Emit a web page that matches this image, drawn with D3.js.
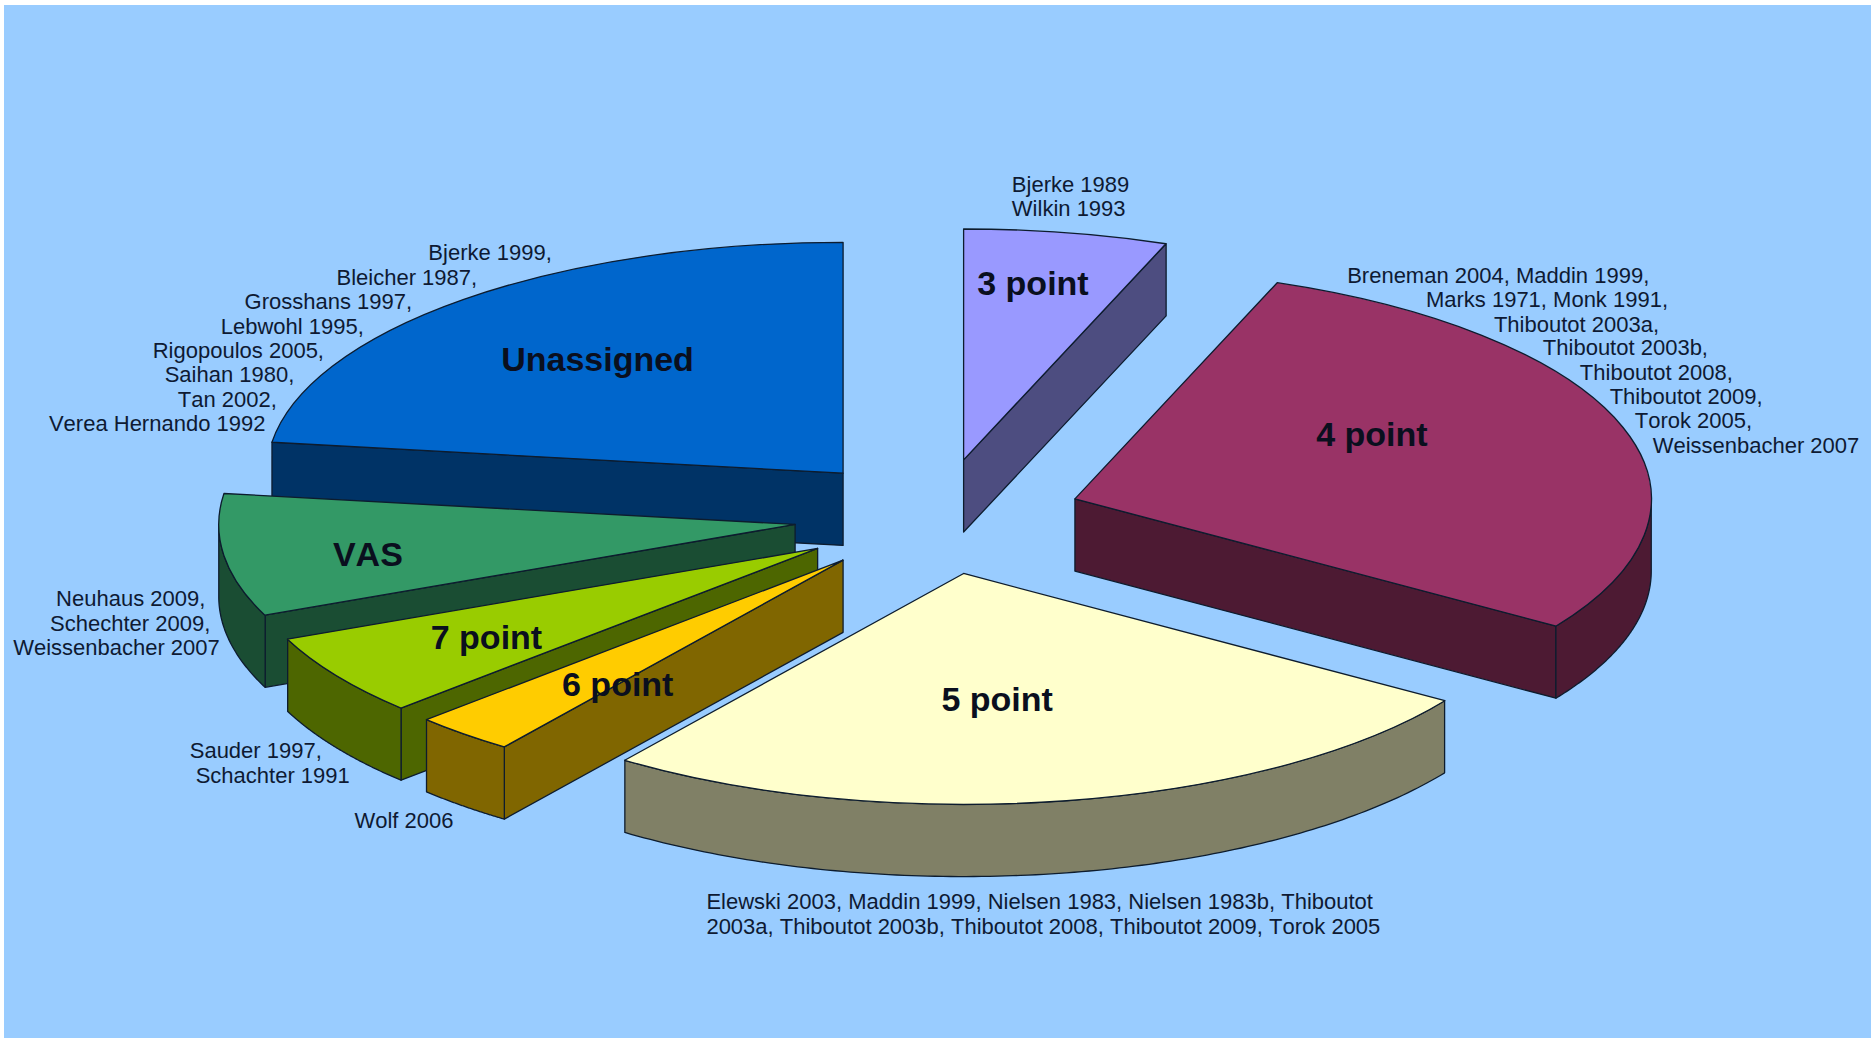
<!DOCTYPE html>
<html>
<head>
<meta charset="utf-8">
<script src="https://cdn.jsdelivr.net/npm/d3@7/dist/d3.min.js"></script>
<style>
html,body{margin:0;padding:0;background:#fff;overflow:hidden}
svg{display:block}
text{font-kerning:none}
</style>
</head>
<body>
<svg id="chart" width="1871" height="1038"></svg>
<script>
// ---- data ----
const categories = ["3 point", "4 point", "5 point", "6 point", "7 point", "VAS", "Unassigned"];
const studyCounts = [2, 10, 9, 1, 2, 3, 8];
const studies3 = ["Bjerke 1989", "Wilkin 1993"];
const studies4 = ["Breneman 2004, Maddin 1999,", "Marks 1971, Monk 1991,", "Thiboutot 2003a,", "Thiboutot 2003b,", "Thiboutot 2008,", "Thiboutot 2009,", "Torok 2005,", "Weissenbacher 2007"];
const studies5 = ["Elewski 2003, Maddin 1999, Nielsen 1983, Nielsen 1983b, Thiboutot", "2003a, Thiboutot 2003b, Thiboutot 2008, Thiboutot 2009, Torok 2005"];
const studies6 = ["Wolf 2006"];
const studies7 = ["Sauder 1997,", "Schachter 1991"];
const studiesVAS = ["Neuhaus 2009,", "Schechter 2009,", "Weissenbacher 2007"];
const studiesUn = ["Bjerke 1999,", "Bleicher 1987,", "Grosshans 1997,", "Lebwohl 1995,", "Rigopoulos 2005,", "Saihan 1980,", "Tan 2002,", "Verea Hernando 1992"];

// ---- styles ----
const topColors  = ["#9999FF", "#993366", "#FFFFCC", "#FFCC00", "#99CC00", "#339966", "#0066CC"];
const sideColors = ["#4D4D80", "#4D1A33", "#808066", "#806600", "#4D6600", "#1A4D33", "#003366"];
const drawOrder = [0, 1, 6, 5, 4, 3, 2];
const outline = "#0d1c2e";
const textColor = "#0e1a33";

// ---- layout ----
const S = 1871 / 1568;
const cx = 786 * S, cy = 433 * S, rx = 483 * S, ry = 193.5 * S, depth = 60.5 * S, explode = 0.25;
const nameFont = 34, studyFont = 22;

const namePos = [[819,237],[1103,364],[789,586],[471,573],[361,534],[279,464],[420,301]];
const studyPos = [
  [[848,155],[848,175]],
  [[1129,231],[1195,251],[1252,272],[1293,292],[1324,313],[1349,333],[1370,353],[1385,374]],
  [[592,756],[592,777]],
  [[297,688]],
  [[159,629],[164,650]],
  [[47,502],[42,523],[11,543]],
  [[359,212],[282,233],[205,253],[185,274],[128,294],[138,314],[149,335],[41,355]]
];
const studyLists = [studies3, studies4, studies5, studies6, studies7, studiesVAS, studiesUn];

const svg = d3.select("#chart");
svg.append("rect").attr("x", 4).attr("y", 5).attr("width", 1867).attr("height", 1033).attr("fill", "#99CCFF");

const pie = d3.pie().sort(null);
const arcs = pie(studyCounts);
const topArc = d3.arc().innerRadius(0).outerRadius(1);
const xS = d3.scaleLinear().domain([-1, 1]).range([-rx, rx]);
const yS = d3.scaleLinear().domain([-1, 1]).range([-ry, ry]);
const line = d3.line();

function slicePoint(angle, ox, oy, drop) {
  return [ox + xS(Math.sin(angle)), oy + yS(-Math.cos(angle)) + drop];
}

function wallPath(points) {
  return line(points) + "Z";
}

drawOrder.forEach(i => {
  const d = arcs[i];
  const mid = (d.startAngle + d.endAngle) / 2;
  const ox = cx + explode * xS(Math.sin(mid));
  const oy = cy + explode * yS(-Math.cos(mid));
  const g = svg.append("g");

  const faceAttrs = sel => sel.attr("fill", sideColors[i]).attr("stroke", outline)
    .attr("stroke-width", 1.3).attr("stroke-linejoin", "round");

  // start radial face: faces the viewer when the start angle is in the left half
  if (Math.sin(d.startAngle) < 0) {
    const p = slicePoint(d.startAngle, ox, oy, 0), q = slicePoint(d.startAngle, ox, oy, depth);
    g.append("path").attr("d", wallPath([[ox, oy], p, q, [ox, oy + depth]])).call(faceAttrs);
  }
  // end radial face: faces the viewer when the end angle is in the right half
  if (Math.sin(d.endAngle) > 0.0001) {
    const p = slicePoint(d.endAngle, ox, oy, 0), q = slicePoint(d.endAngle, ox, oy, depth);
    g.append("path").attr("d", wallPath([[ox, oy], p, q, [ox, oy + depth]])).call(faceAttrs);
  }
  // rim wall: the part of the rim in the front half
  const a0 = Math.max(d.startAngle, Math.PI / 2), a1 = Math.min(d.endAngle, 3 * Math.PI / 2);
  if (a1 > a0) {
    const steps = d3.range(0, 121).map(k => a0 + (a1 - a0) * k / 120);
    const upper = steps.map(a => slicePoint(a, ox, oy, 0));
    const lower = steps.slice().reverse().map(a => slicePoint(a, ox, oy, depth));
    g.append("path").attr("d", wallPath(upper.concat(lower))).call(faceAttrs);
  }
  // top
  g.append("path")
    .attr("d", topArc(d))
    .attr("transform", `translate(${ox},${oy}) scale(${rx},${ry})`)
    .attr("vector-effect", "non-scaling-stroke")
    .attr("fill", topColors[i])
    .attr("stroke", outline)
    .attr("stroke-width", 1.3)
    .attr("stroke-linejoin", "round");
});

const textLayer = svg.append("g").attr("font-family", "'Liberation Sans', Arial, sans-serif").attr("fill", textColor);

studyLists.forEach((lines, i) => {
  lines.forEach((t, j) => {
    const [px, py] = studyPos[i][j];
    textLayer.append("text")
      .attr("x", px * S).attr("y", py * S + 7)
      .attr("font-size", studyFont)
      .text(t);
  });
});

categories.forEach((name, i) => {
  const [px, py] = namePos[i];
  textLayer.append("text")
    .attr("x", px * S).attr("y", py * S + 12)
    .attr("font-size", nameFont)
    .attr("font-weight", "bold")
    .attr("fill", "#0a0f1e")
    .text(name);
});
</script>
</body>
</html>
